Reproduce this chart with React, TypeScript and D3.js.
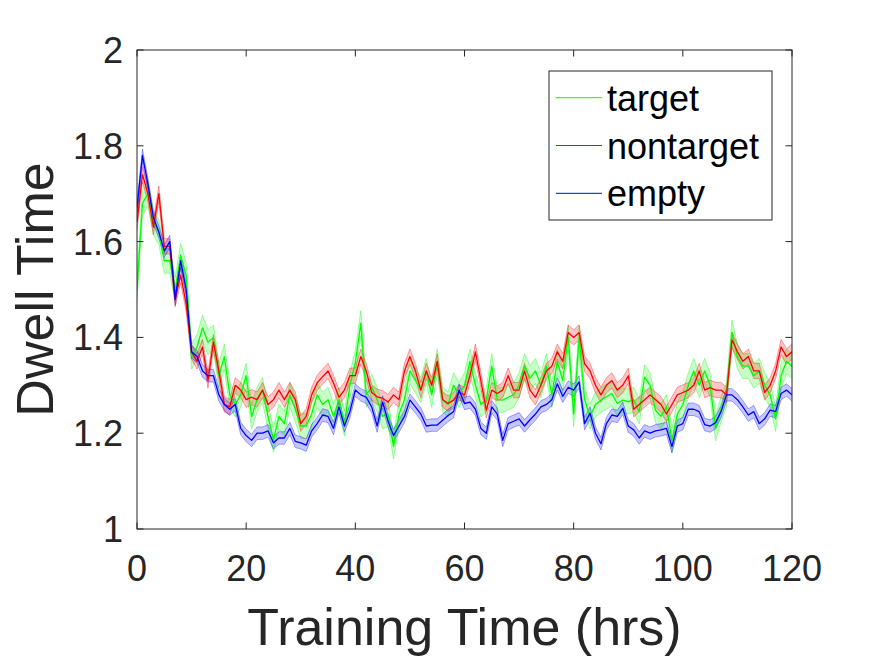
import * as d3 from 'd3';
import React from 'react';

// hourly means, t = 0..120 hrs
const hours = d3.range(0, 121);

const target = [
    1.5, 1.68, 1.7, 1.64, 1.62, 1.56, 1.56, 1.5, 1.57, 1.53,
    1.36, 1.38, 1.42, 1.39, 1.4, 1.32, 1.36, 1.28, 1.26, 1.28,
    1.32, 1.235, 1.27, 1.29, 1.235, 1.186, 1.235, 1.22, 1.28, 1.25,
    1.215, 1.215, 1.24, 1.28, 1.26, 1.27, 1.235, 1.27, 1.22, 1.3,
    1.346, 1.43, 1.28, 1.297, 1.27, 1.235, 1.24, 1.172, 1.24, 1.27,
    1.33, 1.31, 1.29, 1.33, 1.28, 1.35, 1.27, 1.26, 1.3, 1.28,
    1.3, 1.35, 1.3, 1.26, 1.27, 1.34, 1.27, 1.269, 1.275, 1.28,
    1.3, 1.34, 1.315, 1.33, 1.3, 1.34, 1.28, 1.35, 1.31, 1.4,
    1.24, 1.4, 1.27, 1.235, 1.26, 1.269, 1.276, 1.283, 1.262, 1.269,
    1.266, 1.27, 1.245, 1.317, 1.3, 1.248, 1.235, 1.255, 1.185, 1.24,
    1.26, 1.3, 1.33, 1.3, 1.33, 1.3, 1.21, 1.25, 1.28, 1.41,
    1.36, 1.34, 1.34, 1.32, 1.33, 1.3, 1.28, 1.23, 1.32, 1.35,
    1.34,
];

const nontarget = [
    1.64, 1.74, 1.7, 1.63, 1.7, 1.59, 1.59, 1.48, 1.53, 1.47,
    1.37, 1.35, 1.38, 1.31, 1.39, 1.33, 1.26, 1.255, 1.3, 1.29,
    1.27, 1.275, 1.27, 1.29, 1.26, 1.27, 1.29, 1.27, 1.29, 1.27,
    1.22, 1.235, 1.28, 1.305, 1.318, 1.33, 1.305, 1.275, 1.29, 1.32,
    1.32, 1.36, 1.33, 1.285, 1.276, 1.273, 1.265, 1.28, 1.27, 1.33,
    1.36, 1.33, 1.29, 1.33, 1.3, 1.35, 1.27, 1.262, 1.269, 1.285,
    1.28, 1.32, 1.37, 1.31, 1.248, 1.29, 1.283, 1.29, 1.32, 1.29,
    1.29, 1.33, 1.29, 1.275, 1.3, 1.33, 1.34, 1.37, 1.35, 1.41,
    1.4, 1.41, 1.345, 1.33, 1.3, 1.28, 1.3, 1.31, 1.29, 1.3,
    1.32, 1.25, 1.26, 1.27, 1.28, 1.27, 1.26, 1.24, 1.26, 1.28,
    1.285, 1.29, 1.3, 1.33, 1.29, 1.295, 1.29, 1.29, 1.28, 1.395,
    1.37, 1.35, 1.36, 1.33, 1.33, 1.285, 1.3, 1.33, 1.38, 1.36,
    1.37,
];

const empty = [
    1.67, 1.78, 1.72, 1.65, 1.62, 1.58, 1.6, 1.48, 1.56, 1.5,
    1.37, 1.36, 1.33, 1.32, 1.32, 1.28, 1.26, 1.25, 1.26, 1.21,
    1.195, 1.185, 1.2, 1.2, 1.205, 1.18, 1.19, 1.19, 1.21, 1.183,
    1.18, 1.175, 1.205, 1.22, 1.238, 1.235, 1.21, 1.255, 1.215, 1.245,
    1.29, 1.28, 1.275, 1.255, 1.215, 1.265, 1.225, 1.195, 1.215, 1.235,
    1.269, 1.255, 1.24, 1.215, 1.217, 1.217, 1.227, 1.237, 1.245, 1.29,
    1.262, 1.265, 1.25, 1.21, 1.2, 1.255, 1.24, 1.185, 1.22, 1.225,
    1.23, 1.215, 1.228, 1.24, 1.255, 1.26, 1.27, 1.303, 1.277, 1.296,
    1.29, 1.307, 1.22, 1.242, 1.2, 1.178, 1.22, 1.238, 1.235, 1.252,
    1.215, 1.207, 1.19, 1.205, 1.2, 1.205, 1.207, 1.21, 1.172, 1.215,
    1.22, 1.25, 1.25, 1.245, 1.218, 1.215, 1.222, 1.245, 1.28, 1.28,
    1.27, 1.255, 1.238, 1.245, 1.22, 1.23, 1.248, 1.245, 1.283, 1.29,
    1.28,
];

// standard error half-widths
const semTarget = 0.026;
const semNontarget = 0.016;
const semEmpty = 0.013;

const xTicks = [0, 20, 40, 60, 80, 100, 120];
const yTicks = [1, 1.2, 1.4, 1.6, 1.8, 2];

const series = [
    { name: 'target', values: target, sem: semTarget, color: '#00ff00' },
    { name: 'nontarget', values: nontarget, sem: semNontarget, color: '#ff0000' },
    { name: 'empty', values: empty, sem: semEmpty, color: '#0000ff' },
];

const W = 875;
const H = 656;
const left = 137;
const right = 792;
const top = 50;
const bottom = 529;
const font = '"Liberation Sans", Arial, Helvetica, sans-serif';
const axisColor = '#262626';

const App = () => {
    const x = d3.scaleLinear().domain([0, 120]).range([left, right]);
    const y = d3.scaleLinear().domain([1, 2]).range([bottom, top]);

    const line = d3
        .line<number>()
        .x((_, i) => x(hours[i]))
        .y((d) => y(d));

    const tl = 6.5;

    return (
        <svg
            width={W}
            height={H}
            style={{ position: 'absolute', left: 0, top: 0, background: '#fff' }}
            fontFamily={font}
        >
            <rect width={W} height={H} fill="#fff" />
            <defs>
                <clipPath id="plot">
                    <rect x={left} y={top} width={right - left} height={bottom - top} />
                </clipPath>
            </defs>

            <g clipPath="url(#plot)">
                {series.map((s) => {
                    const area = d3
                        .area<number>()
                        .x((_, i) => x(hours[i]))
                        .y0((d) => y(d - s.sem))
                        .y1((d) => y(d + s.sem));
                    const lo = s.values.map((v) => v - s.sem);
                    const hi = s.values.map((v) => v + s.sem);
                    return (
                        <g key={s.name}>
                            <path d={area(s.values) || ''} fill={s.color} fillOpacity={0.22} />
                            <path d={line(lo) || ''} fill="none" stroke={s.color} strokeOpacity={0.35} strokeWidth={1} />
                            <path d={line(hi) || ''} fill="none" stroke={s.color} strokeOpacity={0.35} strokeWidth={1} />
                        </g>
                    );
                })}
                {series.map((s) => (
                    <path
                        key={s.name + '-line'}
                        d={line(s.values) || ''}
                        fill="none"
                        stroke={s.color}
                        strokeWidth={1.3}
                        strokeLinejoin="round"
                    />
                ))}
            </g>

            {/* box + ticks, matlab style */}
            <rect
                x={left}
                y={top}
                width={right - left}
                height={bottom - top}
                fill="none"
                stroke={axisColor}
                strokeWidth={1}
            />
            {xTicks.map((t) => (
                <g key={'x' + t}>
                    <line x1={x(t)} x2={x(t)} y1={bottom} y2={bottom - tl} stroke={axisColor} />
                    <line x1={x(t)} x2={x(t)} y1={top} y2={top + tl} stroke={axisColor} />
                    <text
                        x={x(t)}
                        y={581}
                        textAnchor="middle"
                        fontSize={36}
                        fill={axisColor}
                    >
                        {t}
                    </text>
                </g>
            ))}
            {yTicks.map((t) => (
                <g key={'y' + t}>
                    <line x1={left} x2={left + tl} y1={y(t)} y2={y(t)} stroke={axisColor} />
                    <line x1={right} x2={right - tl} y1={y(t)} y2={y(t)} stroke={axisColor} />
                    <text
                        x={left - 14}
                        y={y(t)}
                        dy="0.36em"
                        textAnchor="end"
                        fontSize={36}
                        fill={axisColor}
                    >
                        {t}
                    </text>
                </g>
            ))}

            <text
                x={(left + right) / 2}
                y={645}
                textAnchor="middle"
                fontSize={52}
                fill={axisColor}
            >
                Training Time (hrs)
            </text>
            <text
                transform={`translate(53,${(top + bottom) / 2}) rotate(-90)`}
                textAnchor="middle"
                fontSize={52}
                fill={axisColor}
            >
                Dwell Time
            </text>

            {/* legend */}
            <g>
                <rect x={549} y={71} width={223} height={149} fill="#fff" stroke={axisColor} strokeWidth={1} />
                {series.map((s, i) => {
                    const ly = 97.7 + i * 47.8;
                    return (
                        <g key={'leg' + s.name}>
                            <line x1={556} x2={602} y1={ly} y2={ly} stroke={s.color} strokeWidth={1} />
                            <text x={607} y={ly + 13} fontSize={36} fill="#000">
                                {s.name}
                            </text>
                        </g>
                    );
                })}
            </g>
        </svg>
    );
};

export default App;
